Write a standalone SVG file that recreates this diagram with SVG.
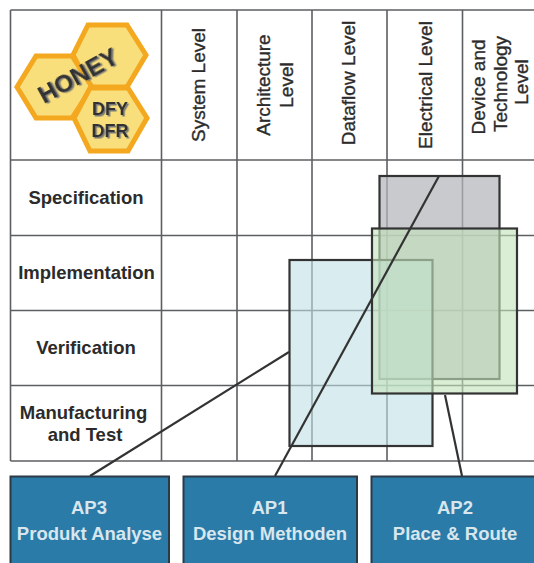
<svg xmlns="http://www.w3.org/2000/svg" width="534" height="563" viewBox="0 0 534 563">
<defs>
<style>
.g{stroke:#5c5f62;stroke-width:1.6;fill:none}
.t{font-family:"Liberation Sans",Arial,sans-serif;font-weight:700;font-size:18.5px;fill:#2b2b2b;text-anchor:middle}
.h{font-family:"Liberation Sans",Arial,sans-serif;font-size:19px;fill:#2b2b2b;stroke:#2b2b2b;stroke-width:.35;text-anchor:middle}
.b{fill:#2a7ba8;stroke:#2a3b46;stroke-width:2}
.w{font-family:"Liberation Sans",Arial,sans-serif;font-weight:700;font-size:18.5px;fill:#d8e6ee;text-anchor:middle}
.hex{fill:#f8df7c;stroke:#f3a81f;stroke-width:5;stroke-linejoin:miter}
.r{stroke:#333;stroke-width:2.2}
.c{stroke:#333;stroke-width:2.2;fill:none}
.lg{font-family:"Liberation Sans",Arial,sans-serif;font-weight:700;fill:#333;text-anchor:middle;filter:url(#sh)}
</style>
<filter id="sh" x="-20%" y="-20%" width="140%" height="140%"><feDropShadow dx="1.500" dy="1.500" stdDeviation="0.500" flood-color="#777"/></filter>
</defs>
<rect width="534" height="563" fill="#fff"/>
<g id="grid" class="g">
<path d="M10.500 10H534M10.500 160H534M10.500 235.500H534M10.500 310.500H534M10.500 385.500H534M10.500 461H534"/>
<path d="M10.500 10V461M161.500 10V461M237 10V461M312 10V461M387 10V461M462.500 10V461"/>
</g>
<g id="logo">
<polygon class="hex" points="88,25 127,25 146,55 127,87 90,87 73,55"/>
<polygon class="hex" points="36,56 72,56 92,87 72,118 36,118 17,87"/>
<polygon class="hex" points="90,88 128,88 147,118 128,151 90,151 74,118"/>
<text class="lg" font-size="24.500" transform="translate(82 83) rotate(-29)">HONEY</text>
<text class="lg" font-size="18" x="110" y="115">DFY</text>
<text class="lg" font-size="18" x="110" y="137">DFR</text>
</g>
<g id="col-system"><text class="h" transform="translate(205 85) rotate(-90)">System Level</text></g>
<g id="col-architecture"><text class="h" transform="translate(270 85) rotate(-90)">Architecture</text><text class="h" transform="translate(293 85) rotate(-90)">Level</text></g>
<g id="col-dataflow"><text class="h" transform="translate(355 83) rotate(-90)">Dataflow Level</text></g>
<g id="col-electrical"><text class="h" transform="translate(432 85) rotate(-90)">Electrical Level</text></g>
<g id="col-device"><text class="h" transform="translate(485 87) rotate(-90)">Device and</text><text class="h" transform="translate(507 84) rotate(-90)">Technology</text><text class="h" transform="translate(528 82) rotate(-90)">Level</text></g>
<g id="row-specification"><text class="t" x="86" y="204">Specification</text></g>
<g id="row-implementation"><text class="t" x="86.500" y="279">Implementation</text></g>
<g id="row-verification"><text class="t" x="86" y="354">Verification</text></g>
<g id="row-manufacturing"><text class="t" x="83.500" y="419">Manufacturing</text><text class="t" x="85" y="441">and Test</text></g>
<g id="region-gray"><rect class="r" x="379.500" y="176" width="120" height="203" fill="#b4b6bb" fill-opacity="0.72"/></g>
<g id="region-blue"><rect class="r" x="289.500" y="260" width="143" height="186" fill="#c0e1e6" fill-opacity="0.6"/></g>
<g id="region-green"><rect x="372" y="228.500" width="145" height="165" fill="#c4e2bc" fill-opacity="0.62"/><rect x="372" y="228.500" width="145" height="165" fill="none" class="r"/></g>
<g id="connectors">
<path class="c" d="M439 176L275 476"/>
<path class="c" d="M289 352L90 476"/>
<path class="c" d="M445 395L462 476"/>
</g>
<g id="ap3"><rect class="b" x="10.500" y="476.500" width="158.500" height="90"/><text class="w" x="89" y="514">AP3</text><text class="w" x="89.500" y="540">Produkt Analyse</text></g>
<g id="ap1"><rect class="b" x="183.500" y="476.500" width="173.500" height="90"/><text class="w" x="269.500" y="514">AP1</text><text class="w" x="270" y="540">Design Methoden</text></g>
<g id="ap2"><rect class="b" x="371.500" y="476.500" width="175" height="90"/><text class="w" x="455" y="514">AP2</text><text class="w" x="455" y="540">Place &amp; Route</text></g>
</svg>
